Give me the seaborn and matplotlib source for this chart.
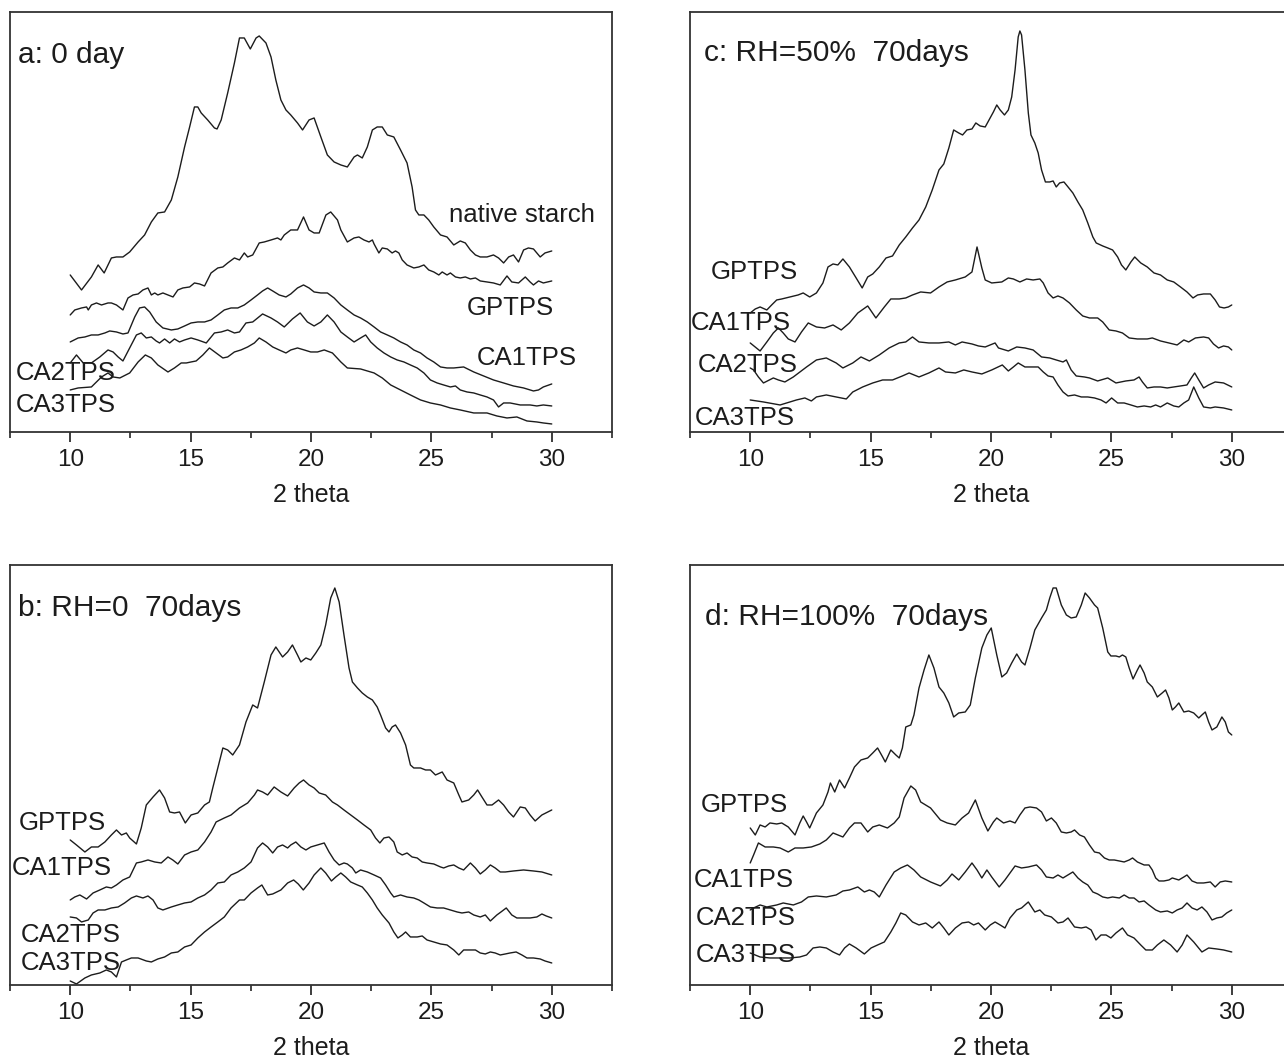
import matplotlib
matplotlib.use("Agg")
import matplotlib.pyplot as plt
from matplotlib.ticker import MultipleLocator
import pandas as pd
import seaborn as sns

# XRD patterns: (2 theta, intensity in arbitrary units)

# a: 0 day
a_native = [(10.0, 157), (10.47, 142), (10.88, 155), (11.16, 167), (11.41, 159), (11.71, 174), (11.92, 175),
            (12.19, 175), (12.47, 180), (12.82, 190), (13.09, 197), (13.37, 210), (13.64, 219), (13.92, 220),
            (14.20, 232), (14.47, 255), (14.75, 285), (14.96, 305), (15.16, 325), (15.30, 325), (15.44, 319),
            (15.71, 312), (15.99, 304), (16.10, 303), (16.27, 312), (16.54, 339), (16.82, 369), (17.03, 394),
            (17.23, 394), (17.48, 383), (17.72, 394), (17.85, 396), (18.13, 389), (18.34, 375), (18.54, 352),
            (18.75, 332), (18.96, 322), (19.16, 317), (19.44, 309), (19.65, 302), (19.92, 312), (20.13, 314),
            (20.41, 295), (20.68, 277), (20.96, 270), (21.24, 267), (21.51, 265), (21.79, 275), (21.93, 277),
            (22.13, 274), (22.34, 285), (22.55, 302), (22.75, 305), (22.96, 305), (23.17, 297), (23.44, 295),
            (23.72, 282), (23.99, 269), (24.20, 245), (24.34, 222), (24.48, 217), (24.69, 217), (24.89, 212),
            (25.10, 205), (25.38, 197), (25.65, 195), (25.93, 187), (26.20, 191), (26.41, 189), (26.62, 182),
            (26.83, 177), (27.03, 175), (27.31, 175), (27.58, 177), (27.79, 174), (28.00, 169), (28.21, 175),
            (28.41, 177), (28.62, 170), (28.83, 182), (29.03, 184), (29.24, 183), (29.52, 175), (29.72, 179),
            (30.0, 181)]
a_gptps = [(10.0, 117), (10.19, 122), (10.47, 124), (10.68, 125), (10.75, 122), (10.88, 127), (11.09, 129),
           (11.30, 127), (11.57, 129), (11.71, 129), (11.92, 127), (12.19, 122), (12.40, 134), (12.61, 137),
           (12.82, 138), (13.02, 142), (13.23, 144), (13.37, 137), (13.51, 139), (13.64, 137), (13.85, 139),
           (14.06, 137), (14.27, 135), (14.47, 142), (14.68, 144), (14.96, 145), (15.16, 149), (15.37, 148),
           (15.58, 146), (15.85, 159), (16.13, 164), (16.34, 165), (16.54, 169), (16.82, 174), (17.03, 172),
           (17.23, 179), (17.37, 175), (17.58, 177), (17.85, 189), (18.06, 190), (18.34, 192), (18.61, 194),
           (18.75, 192), (18.89, 197), (19.16, 202), (19.44, 202), (19.69, 215), (19.92, 202), (20.13, 199),
           (20.34, 199), (20.62, 217), (20.82, 220), (21.10, 212), (21.24, 202), (21.51, 190), (21.79, 194),
           (21.99, 195), (22.20, 192), (22.41, 190), (22.55, 192), (22.62, 188), (22.82, 179), (22.96, 184),
           (23.17, 183), (23.37, 179), (23.51, 181), (23.65, 179), (23.79, 172), (23.99, 167), (24.27, 164),
           (24.48, 165), (24.69, 167), (24.89, 162), (25.10, 160), (25.31, 157), (25.45, 160), (25.65, 157),
           (25.79, 159), (26.00, 155), (26.20, 154), (26.41, 155), (26.62, 153), (26.83, 154), (27.03, 151),
           (27.31, 150), (27.58, 149), (27.86, 147), (28.14, 156), (28.34, 150), (28.62, 149), (28.90, 155),
           (29.10, 150), (29.24, 147), (29.45, 151), (29.65, 149), (30.0, 151)]
a_ca1 = [(10.0, 90), (10.33, 94), (10.61, 95), (10.88, 97), (11.16, 97), (11.44, 99), (11.64, 101), (11.92, 100),
         (12.19, 98), (12.40, 99), (12.68, 115), (12.88, 124), (13.09, 125), (13.30, 120), (13.57, 110),
         (13.85, 104), (14.20, 102), (14.47, 103), (14.75, 106), (15.02, 109), (15.30, 110), (15.58, 110),
         (15.85, 112), (16.13, 117), (16.40, 122), (16.68, 124), (16.96, 124), (17.23, 127), (17.51, 132),
         (17.78, 137), (17.99, 141), (18.20, 144), (18.41, 141), (18.68, 137), (18.96, 135), (19.16, 138),
         (19.44, 144), (19.69, 147), (19.92, 144), (20.13, 140), (20.41, 139), (20.68, 139), (20.96, 134),
         (21.24, 127), (21.51, 122), (21.79, 117), (22.06, 114), (22.34, 110), (22.62, 105), (22.89, 100),
         (23.17, 97), (23.44, 94), (23.72, 90), (23.99, 87), (24.27, 82), (24.55, 79), (24.82, 74), (25.10, 70),
         (25.38, 65), (25.65, 64), (25.93, 64), (26.34, 65), (26.76, 60), (27.17, 56), (27.58, 52), (28.00, 49),
         (28.41, 46), (28.83, 44), (29.24, 41), (29.45, 42), (29.65, 45), (30.0, 48)]
a_ca2 = [(10.0, 69), (10.26, 77), (10.54, 69), (10.88, 69), (11.23, 75), (11.57, 82), (11.78, 80), (11.99, 75),
         (12.19, 71), (12.47, 84), (12.75, 97), (12.95, 99), (13.16, 94), (13.37, 95), (13.57, 91), (13.71, 89),
         (13.92, 93), (14.13, 89), (14.33, 93), (14.54, 90), (14.75, 92), (15.02, 94), (15.30, 92), (15.65, 89),
         (15.99, 99), (16.27, 100), (16.54, 102), (16.82, 99), (17.03, 100), (17.30, 109), (17.58, 110),
         (17.99, 118), (18.34, 114), (18.61, 110), (18.89, 105), (19.23, 113), (19.55, 119), (19.85, 110),
         (20.13, 106), (20.41, 110), (20.68, 117), (20.96, 110), (21.24, 100), (21.51, 95), (21.79, 90),
         (22.06, 94), (22.27, 97), (22.48, 90), (22.75, 84), (23.03, 79), (23.31, 75), (23.58, 72), (23.86, 70),
         (24.13, 67), (24.41, 64), (24.69, 59), (24.96, 52), (25.24, 49), (25.51, 47), (25.79, 45), (26.00, 46),
         (26.20, 42), (26.48, 40), (26.76, 39), (27.03, 37), (27.31, 35), (27.58, 32), (27.79, 25), (28.00, 29),
         (28.27, 29), (28.69, 27), (29.10, 27), (29.38, 26), (29.65, 27), (30.0, 26)]
a_ca3 = [(10.0, 42), (10.33, 44), (10.88, 45), (11.30, 55), (11.57, 59), (11.78, 55), (12.06, 54), (12.47, 59),
         (12.82, 70), (13.12, 77), (13.37, 74), (13.64, 67), (14.06, 60), (14.33, 64), (14.61, 69), (14.82, 69),
         (15.02, 70), (15.23, 71), (15.51, 77), (15.78, 84), (16.06, 79), (16.34, 74), (16.54, 75), (16.82, 80),
         (17.09, 82), (17.37, 85), (17.65, 89), (17.85, 94), (18.13, 90), (18.41, 85), (18.68, 82), (18.96, 79),
         (19.16, 82), (19.44, 84), (19.72, 82), (19.99, 80), (20.27, 80), (20.55, 82), (20.89, 79), (21.24, 70),
         (21.51, 64), (22.06, 63), (22.62, 59), (22.96, 54), (23.31, 47), (23.72, 42), (24.13, 37), (24.55, 32),
         (24.96, 29), (25.38, 27), (25.79, 24), (26.20, 22), (26.76, 19), (27.31, 19), (27.72, 16), (28.14, 14),
         (28.55, 15), (28.97, 11), (29.38, 10), (29.65, 9), (30.0, 8)]

# c: RH=50% 70 days
c_gptps = [(10.0, 119), (10.21, 123), (10.41, 125), (10.69, 122), (10.89, 127), (11.10, 132), (11.31, 133),
           (11.65, 135), (11.99, 137), (12.20, 139), (12.47, 135), (12.75, 139), (13.02, 149), (13.23, 165),
           (13.44, 168), (13.64, 167), (13.85, 173), (14.12, 165), (14.40, 154), (14.65, 144), (14.88, 155),
           (15.09, 158), (15.36, 165), (15.64, 174), (15.91, 176), (16.19, 187), (16.46, 195), (16.74, 204),
           (17.01, 212), (17.29, 225), (17.56, 242), (17.84, 262), (18.04, 268), (18.25, 284), (18.45, 302),
           (18.66, 299), (18.82, 297), (19.00, 302), (19.21, 303), (19.37, 309), (19.55, 306), (19.76, 305),
           (20.10, 320), (20.24, 327), (20.38, 322), (20.56, 317), (20.72, 322), (20.86, 335), (21.00, 362),
           (21.13, 395), (21.20, 401), (21.27, 397), (21.41, 362), (21.55, 319), (21.66, 297), (21.82, 289),
           (21.96, 279), (22.10, 262), (22.26, 250), (22.44, 250), (22.58, 251), (22.71, 245), (22.85, 249),
           (23.03, 250), (23.20, 245), (23.40, 239), (23.61, 230), (23.81, 222), (24.02, 209), (24.23, 195),
           (24.37, 189), (24.64, 186), (24.85, 184), (25.05, 182), (25.26, 175), (25.42, 167), (25.60, 162),
           (25.81, 170), (25.97, 175), (26.22, 169), (26.49, 165), (26.77, 159), (27.04, 157), (27.32, 152),
           (27.59, 150), (27.87, 145), (28.14, 140), (28.39, 134), (28.58, 137), (28.83, 138), (29.11, 138),
           (29.31, 132), (29.49, 125), (29.68, 124), (29.86, 125), (30.0, 127)]
c_ca1 = [(10.0, 89), (10.41, 81), (10.69, 90), (10.96, 99), (11.17, 104), (11.37, 99), (11.58, 93), (11.86, 90),
         (12.13, 100), (12.41, 109), (12.75, 105), (13.09, 104), (13.44, 107), (13.78, 102), (14.12, 109),
         (14.47, 119), (14.88, 126), (15.22, 114), (15.57, 125), (15.84, 133), (16.19, 133), (16.46, 134),
         (16.74, 137), (17.08, 140), (17.49, 139), (17.84, 145), (18.18, 150), (18.52, 152), (18.93, 155),
         (19.21, 160), (19.42, 185), (19.62, 164), (19.76, 152), (20.03, 149), (20.45, 150), (20.72, 154),
         (20.93, 153), (21.20, 150), (21.48, 153), (21.75, 152), (22.03, 153), (22.17, 149), (22.37, 139),
         (22.58, 134), (22.78, 136), (22.99, 134), (23.26, 129), (23.54, 122), (23.81, 116), (24.09, 114),
         (24.43, 114), (24.64, 110), (24.91, 102), (25.19, 101), (25.46, 99), (25.74, 94), (26.08, 93),
         (26.49, 93), (26.70, 94), (27.04, 91), (27.39, 89), (27.73, 87), (28.01, 92), (28.21, 90), (28.49, 94),
         (28.83, 95), (29.04, 94), (29.24, 88), (29.45, 84), (29.66, 86), (29.86, 85), (30.0, 82)]
c_ca2 = [(10.0, 64), (10.14, 62), (10.34, 55), (10.55, 49), (10.96, 54), (11.17, 52), (11.44, 50), (11.79, 55),
         (12.34, 65), (12.75, 72), (13.16, 74), (13.57, 69), (13.85, 64), (14.26, 69), (14.60, 75), (14.95, 71),
         (15.36, 77), (15.77, 84), (16.19, 89), (16.46, 90), (16.74, 95), (17.01, 90), (17.42, 89), (17.84, 89),
         (18.25, 90), (18.52, 87), (18.80, 90), (19.21, 88), (19.48, 86), (19.76, 85), (20.17, 89), (20.31, 84),
         (20.72, 81), (21.07, 85), (21.41, 84), (21.75, 82), (22.10, 75), (22.44, 74), (22.71, 72), (22.99, 70),
         (23.13, 72), (23.33, 62), (23.54, 56), (23.88, 55), (24.09, 54), (24.43, 51), (24.85, 54), (25.19, 49),
         (25.60, 51), (25.94, 52), (26.15, 55), (26.29, 50), (26.49, 44), (26.77, 45), (27.04, 45), (27.32, 44),
         (27.59, 45), (27.87, 46), (28.14, 47), (28.32, 54), (28.46, 59), (28.63, 52), (28.83, 44), (29.04, 47),
         (29.31, 50), (29.66, 49), (30.0, 45)]
c_ca3 = [(10.0, 32), (10.55, 30), (11.24, 27), (11.65, 30), (11.92, 32), (12.27, 34), (12.54, 31), (12.75, 35),
         (13.16, 37), (13.57, 35), (13.99, 33), (14.26, 40), (14.67, 45), (15.09, 49), (15.50, 52), (15.91, 52),
         (16.32, 56), (16.60, 59), (17.01, 55), (17.42, 59), (17.84, 64), (18.11, 60), (18.52, 59), (18.87, 62),
         (19.21, 60), (19.62, 58), (20.03, 62), (20.47, 67), (20.72, 61), (20.93, 65), (21.13, 69), (21.41, 65),
         (21.68, 65), (21.96, 65), (22.17, 60), (22.37, 56), (22.58, 55), (22.78, 47), (22.99, 40), (23.20, 36),
         (23.47, 37), (23.75, 35), (24.02, 35), (24.30, 34), (24.57, 32), (24.78, 29), (25.01, 34), (25.26, 29),
         (25.53, 29), (25.81, 27), (26.08, 25), (26.36, 26), (26.63, 25), (26.84, 27), (27.04, 25), (27.32, 29),
         (27.59, 26), (27.80, 25), (28.01, 29), (28.21, 32), (28.42, 45), (28.63, 34), (28.83, 25), (29.11, 24),
         (29.31, 25), (29.66, 24), (30.0, 22)]

# b: RH=0 70 days
b_gptps = [(10.0, 145), (10.26, 140), (10.61, 133), (10.88, 138), (11.16, 138), (11.44, 143), (11.71, 150),
           (11.92, 155), (12.13, 150), (12.33, 152), (12.47, 147), (12.75, 141), (12.95, 157), (13.16, 180),
           (13.44, 188), (13.71, 195), (13.92, 187), (14.13, 173), (14.33, 172), (14.54, 173), (14.78, 162),
           (15.02, 170), (15.30, 172), (15.58, 180), (15.78, 183), (15.92, 197), (16.13, 217), (16.34, 237),
           (16.54, 235), (16.75, 230), (17.03, 240), (17.30, 263), (17.58, 280), (17.78, 277), (18.06, 303),
           (18.34, 330), (18.54, 338), (18.82, 328), (19.03, 333), (19.23, 340), (19.44, 330), (19.58, 323),
           (19.79, 327), (19.99, 325), (20.20, 332), (20.41, 340), (20.61, 360), (20.82, 387), (20.99, 397),
           (21.17, 383), (21.37, 350), (21.58, 317), (21.72, 303), (21.93, 297), (22.13, 292), (22.34, 288),
           (22.55, 285), (22.75, 278), (22.89, 270), (23.10, 257), (23.24, 253), (23.37, 258), (23.51, 260),
           (23.72, 252), (23.93, 240), (24.13, 220), (24.27, 217), (24.55, 217), (24.76, 215), (24.96, 215),
           (25.17, 210), (25.45, 213), (25.65, 205), (25.93, 202), (26.14, 190), (26.27, 183), (26.55, 185),
           (26.76, 190), (26.92, 195), (27.10, 188), (27.31, 180), (27.52, 180), (27.79, 185), (28.00, 180),
           (28.21, 173), (28.41, 168), (28.69, 178), (28.90, 177), (29.10, 170), (29.31, 164), (29.59, 170),
           (30.0, 175)]
b_ca1 = [(10.0, 85), (10.19, 88), (10.40, 90), (10.68, 86), (10.95, 92), (11.23, 95), (11.50, 98), (11.71, 97),
         (11.92, 100), (12.19, 105), (12.47, 108), (12.75, 122), (12.95, 123), (13.23, 125), (13.51, 123),
         (13.78, 122), (14.06, 128), (14.26, 125), (14.47, 121), (14.75, 130), (15.02, 133), (15.30, 135),
         (15.58, 143), (15.85, 153), (16.06, 163), (16.40, 167), (16.68, 170), (17.03, 177), (17.37, 182),
         (17.65, 190), (17.78, 195), (17.99, 193), (18.20, 190), (18.47, 198), (18.75, 193), (19.03, 189),
         (19.30, 197), (19.51, 202), (19.69, 205), (19.92, 200), (20.13, 197), (20.34, 192), (20.61, 190),
         (20.89, 183), (21.10, 180), (21.37, 175), (21.65, 170), (21.93, 165), (22.20, 160), (22.48, 155),
         (22.68, 147), (22.86, 142), (23.03, 147), (23.24, 148), (23.44, 143), (23.58, 133), (23.79, 130),
         (23.99, 132), (24.20, 128), (24.41, 127), (24.62, 123), (24.82, 122), (25.10, 121), (25.38, 118),
         (25.51, 117), (25.72, 119), (25.93, 120), (26.14, 117), (26.34, 115), (26.62, 122), (26.83, 117),
         (27.03, 111), (27.24, 115), (27.45, 120), (27.65, 117), (27.86, 113), (28.07, 113), (28.41, 114),
         (28.83, 115), (29.24, 114), (29.59, 113), (30.0, 110)]
b_ca2 = [(10.0, 68), (10.26, 67), (10.47, 63), (10.75, 65), (10.95, 72), (11.16, 75), (11.44, 75), (11.71, 77),
         (11.99, 78), (12.26, 82), (12.54, 87), (12.75, 89), (13.02, 87), (13.23, 89), (13.44, 85), (13.64, 77),
         (13.85, 75), (14.20, 78), (14.47, 80), (14.75, 82), (15.02, 83), (15.30, 87), (15.58, 90), (15.85, 95),
         (16.13, 102), (16.40, 103), (16.68, 110), (16.96, 113), (17.23, 117), (17.51, 123), (17.78, 137),
         (17.99, 142), (18.20, 138), (18.41, 132), (18.61, 138), (18.82, 140), (19.03, 137), (19.16, 140),
         (19.37, 143), (19.58, 138), (19.79, 135), (19.99, 138), (20.27, 140), (20.55, 142), (20.75, 133),
         (20.96, 125), (21.17, 120), (21.37, 122), (21.51, 121), (21.72, 117), (21.86, 112), (22.06, 115),
         (22.34, 113), (22.62, 110), (22.89, 107), (23.10, 100), (23.31, 92), (23.44, 88), (23.72, 90),
         (23.99, 88), (24.27, 87), (24.48, 85), (24.69, 82), (24.96, 78), (25.24, 77), (25.51, 77), (25.79, 75),
         (26.07, 73), (26.27, 72), (26.55, 73), (26.76, 70), (27.03, 68), (27.24, 70), (27.45, 64), (27.72, 70),
         (27.89, 73), (28.11, 77), (28.34, 70), (28.55, 67), (28.83, 67), (29.10, 67), (29.38, 68), (29.59, 71),
         (29.77, 69), (30.0, 67)]
b_ca3 = [(10.0, 4), (10.26, 1), (10.61, 7), (10.88, 10), (11.23, 12), (11.50, 15), (11.71, 13), (11.92, 8),
         (12.13, 23), (12.33, 25), (12.54, 27), (12.82, 27), (13.16, 24), (13.37, 23), (13.64, 26), (13.92, 28),
         (14.20, 32), (14.47, 33), (14.75, 38), (15.02, 40), (15.30, 47), (15.58, 53), (15.85, 58), (16.13, 63),
         (16.40, 68), (16.68, 77), (17.03, 85), (17.23, 85), (17.51, 92), (17.78, 97), (17.96, 100), (18.20, 90),
         (18.41, 91), (18.75, 95), (19.03, 102), (19.28, 105), (19.47, 101), (19.68, 95), (19.92, 102),
         (20.13, 110), (20.41, 117), (20.61, 112), (20.85, 104), (21.03, 108), (21.24, 112), (21.44, 108),
         (21.65, 103), (21.93, 100), (22.13, 98), (22.34, 92), (22.55, 85), (22.75, 77), (22.96, 70), (23.24, 62),
         (23.44, 53), (23.61, 47), (23.79, 50), (23.93, 53), (24.13, 48), (24.41, 48), (24.62, 49), (24.82, 45),
         (25.10, 43), (25.38, 41), (25.65, 40), (25.93, 35), (26.14, 30), (26.34, 35), (26.62, 35), (26.83, 35),
         (27.03, 32), (27.24, 31), (27.45, 33), (27.65, 32), (27.86, 30), (28.07, 31), (28.27, 32), (28.52, 33),
         (28.76, 30), (28.97, 27), (29.24, 27), (29.52, 26), (29.72, 24), (30.0, 22)]

# d: RH=100% 70 days
d_gptps = [(10.0, 157), (10.21, 150), (10.41, 160), (10.62, 158), (10.82, 162), (11.10, 161), (11.31, 162),
           (11.58, 158), (11.86, 150), (12.06, 162), (12.20, 169), (12.34, 163), (12.47, 157), (12.75, 172),
           (13.02, 180), (13.23, 193), (13.33, 202), (13.51, 193), (13.71, 205), (13.92, 197), (14.12, 207),
           (14.33, 218), (14.60, 225), (14.88, 227), (15.09, 232), (15.29, 237), (15.50, 228), (15.61, 223),
           (15.84, 235), (16.05, 230), (16.19, 227), (16.32, 237), (16.46, 258), (16.67, 260), (16.80, 270),
           (17.01, 297), (17.22, 315), (17.42, 330), (17.63, 317), (17.84, 298), (18.04, 292), (18.25, 282),
           (18.45, 268), (18.66, 272), (18.93, 273), (19.14, 280), (19.35, 307), (19.62, 337), (19.83, 350),
           (20.01, 357), (20.24, 330), (20.45, 308), (20.65, 312), (20.86, 322), (21.07, 331), (21.27, 323),
           (21.41, 320), (21.62, 337), (21.82, 355), (22.10, 367), (22.30, 375), (22.44, 387), (22.58, 397),
           (22.71, 397), (22.92, 380), (23.13, 370), (23.33, 367), (23.54, 368), (23.75, 380), (23.91, 392),
           (24.09, 387), (24.30, 380), (24.43, 377), (24.64, 357), (24.85, 333), (24.98, 329), (25.19, 329),
           (25.33, 328), (25.46, 330), (25.60, 328), (25.74, 317), (25.90, 306), (26.08, 315), (26.19, 320),
           (26.36, 312), (26.49, 303), (26.70, 298), (26.91, 288), (27.11, 292), (27.25, 295), (27.39, 287),
           (27.53, 275), (27.66, 278), (27.80, 282), (28.01, 273), (28.21, 274), (28.42, 272), (28.63, 267),
           (28.76, 270), (28.90, 273), (29.04, 263), (29.18, 255), (29.38, 258), (29.59, 268), (29.73, 263),
           (29.86, 253), (30.0, 250)]
d_ca1 = [(10.0, 122), (10.14, 130), (10.34, 142), (10.62, 138), (10.96, 138), (11.24, 137), (11.58, 133),
         (11.86, 137), (12.20, 137), (12.54, 138), (12.89, 141), (13.16, 145), (13.44, 152), (13.85, 148),
         (14.12, 157), (14.33, 162), (14.60, 162), (14.88, 153), (15.09, 158), (15.36, 160), (15.70, 157),
         (15.98, 162), (16.19, 168), (16.39, 187), (16.67, 199), (16.87, 195), (17.08, 183), (17.49, 177),
         (17.90, 165), (18.18, 162), (18.52, 160), (18.80, 167), (19.07, 172), (19.35, 185), (19.62, 167),
         (19.87, 154), (20.10, 163), (20.24, 167), (20.52, 162), (20.79, 164), (21.00, 162), (21.20, 170),
         (21.41, 177), (21.62, 178), (21.89, 177), (22.10, 173), (22.30, 164), (22.51, 167), (22.71, 162),
         (22.92, 153), (23.13, 152), (23.33, 153), (23.47, 155), (23.68, 150), (23.88, 148), (24.09, 140),
         (24.30, 133), (24.50, 132), (24.71, 127), (24.91, 125), (25.12, 125), (25.33, 124), (25.53, 123),
         (25.74, 125), (25.88, 127), (26.08, 123), (26.36, 120), (26.56, 120), (26.70, 115), (26.84, 107),
         (26.98, 104), (27.18, 104), (27.39, 105), (27.53, 107), (27.80, 105), (28.01, 108), (28.14, 110),
         (28.35, 104), (28.56, 102), (28.83, 102), (29.11, 103), (29.31, 98), (29.52, 103), (29.73, 104),
         (30.0, 103)]
d_ca2 = [(10.0, 75), (10.14, 77), (10.41, 80), (10.69, 78), (11.10, 80), (11.37, 82), (11.79, 80), (12.13, 83),
         (12.41, 88), (12.75, 89), (13.16, 88), (13.57, 90), (13.85, 94), (14.12, 95), (14.47, 98), (14.74, 93),
         (14.95, 95), (15.15, 93), (15.36, 88), (15.64, 100), (15.98, 113), (16.25, 117), (16.53, 120),
         (16.80, 115), (17.08, 108), (17.49, 103), (17.90, 99), (18.18, 105), (18.38, 111), (18.66, 105),
         (18.93, 113), (19.21, 122), (19.42, 115), (19.62, 107), (19.83, 115), (20.03, 108), (20.34, 98),
         (20.58, 105), (20.79, 112), (21.00, 119), (21.27, 117), (21.55, 118), (21.89, 120), (22.10, 115),
         (22.30, 108), (22.58, 107), (22.78, 110), (22.99, 107), (23.40, 113), (23.61, 107), (23.81, 103),
         (24.02, 100), (24.23, 93), (24.43, 91), (24.64, 88), (24.85, 87), (25.05, 88), (25.33, 87), (25.53, 90),
         (25.74, 87), (25.94, 87), (26.15, 83), (26.36, 84), (26.56, 80), (26.84, 75), (27.04, 73), (27.32, 74),
         (27.53, 72), (27.73, 75), (27.94, 77), (28.14, 82), (28.35, 77), (28.56, 75), (28.76, 78), (28.97, 73),
         (29.18, 65), (29.38, 67), (29.59, 68), (29.79, 72), (30.0, 75)]
d_ca3 = [(10.0, 32), (10.41, 28), (10.82, 27), (11.24, 27), (11.65, 27), (12.06, 28), (12.34, 30), (12.61, 37),
         (12.89, 38), (13.16, 37), (13.44, 33), (13.71, 30), (13.92, 37), (14.12, 41), (14.40, 37), (14.74, 31),
         (15.02, 37), (15.29, 40), (15.57, 43), (15.84, 53), (16.05, 62), (16.25, 72), (16.46, 70), (16.74, 63),
         (17.01, 60), (17.29, 62), (17.56, 57), (17.84, 63), (18.04, 57), (18.25, 50), (18.52, 57), (18.80, 62),
         (19.07, 63), (19.28, 60), (19.48, 62), (19.76, 55), (19.97, 60), (20.17, 63), (20.38, 60), (20.58, 57),
         (20.79, 67), (21.07, 75), (21.27, 77), (21.55, 83), (21.82, 73), (22.03, 75), (22.23, 70), (22.51, 68),
         (22.78, 62), (22.99, 63), (23.20, 67), (23.47, 58), (23.75, 57), (23.95, 58), (24.16, 55), (24.36, 45),
         (24.57, 50), (24.78, 50), (24.98, 47), (25.19, 52), (25.46, 57), (25.67, 50), (25.94, 47), (26.22, 40),
         (26.43, 35), (26.70, 35), (26.91, 40), (27.18, 45), (27.46, 40), (27.73, 33), (27.94, 40), (28.14, 50),
         (28.42, 43), (28.76, 33), (29.04, 37), (29.38, 36), (29.66, 35), (30.0, 33)]

sns.set_style("ticks")
plt.rcParams['font.family'] = ['Liberation Sans', 'DejaVu Sans']

INK = "#1c1c1c"


def draw_panel(fig, rect, curves, title, title_pos, labels):
    ax = fig.add_axes(rect)
    for pts in curves:
        df = pd.DataFrame(pts, columns=["theta", "intensity"])
        sns.lineplot(data=df, x="theta", y="intensity", ax=ax, color=INK,
                     linewidth=1.0, estimator=None, legend=False)
    ax.set_xlim(7.5, 32.5)
    ax.set_ylim(0, 420)
    ax.set_yticks([])
    ax.set_ylabel("")
    ax.xaxis.set_major_locator(MultipleLocator(5))
    ax.xaxis.set_minor_locator(MultipleLocator(2.5))
    ax.tick_params(axis="x", which="major", direction="out", length=7, width=1.2,
                   labelsize=17.5, pad=5, colors=INK)
    ax.tick_params(axis="x", which="minor", direction="out", length=4, width=1.2)
    ax.set_xlabel("2 theta", fontsize=18, labelpad=9, color=INK)
    for side in ["left", "right", "top", "bottom"]:
        ax.spines[side].set_visible(True)
        ax.spines[side].set_linewidth(1.3)
        ax.spines[side].set_color("#333333")
    ax.text(title_pos[0], title_pos[1], title, fontsize=21.5, ha="left", va="center", color=INK)
    for name, x, y in labels:
        ax.text(x, y, name, fontsize=18.5, ha="left", va="center", color=INK)
    return ax


fig = plt.figure(figsize=(12.84, 10.59), dpi=100)

draw_panel(fig, [0.0078, 0.5921, 0.4688, 0.3966],
           [a_native, a_gptps, a_ca1, a_ca2, a_ca3],
           "a: 0 day", (7.85, 377),
           [("native starch", 25.73, 217), ("GPTPS", 26.48, 124), ("CA1TPS", 26.89, 74),
            ("CA2TPS", 7.72, 59), ("CA3TPS", 7.72, 27)])

draw_panel(fig, [0.5374, 0.5921, 0.4688, 0.3966],
           [c_gptps, c_ca1, c_ca2, c_ca3],
           "c: RH=50%  70days", (8.06, 379),
           [("GPTPS", 8.35, 160), ("CA1TPS", 7.53, 109), ("CA2TPS", 7.81, 67), ("CA3TPS", 7.69, 14)])

draw_panel(fig, [0.0078, 0.0699, 0.4688, 0.3966],
           [b_gptps, b_ca1, b_ca2, b_ca3],
           "b: RH=0  70days", (7.85, 377),
           [("GPTPS", 7.85, 162), ("CA1TPS", 7.56, 117), ("CA2TPS", 7.93, 50), ("CA3TPS", 7.93, 22)])

draw_panel(fig, [0.5374, 0.0699, 0.4688, 0.3966],
           [d_gptps, d_ca1, d_ca2, d_ca3],
           "d: RH=100%  70days", (8.14, 368),
           [("GPTPS", 7.94, 180), ("CA1TPS", 7.65, 105), ("CA2TPS", 7.73, 67), ("CA3TPS", 7.73, 30)])

fig.savefig("out.png", dpi=100)
